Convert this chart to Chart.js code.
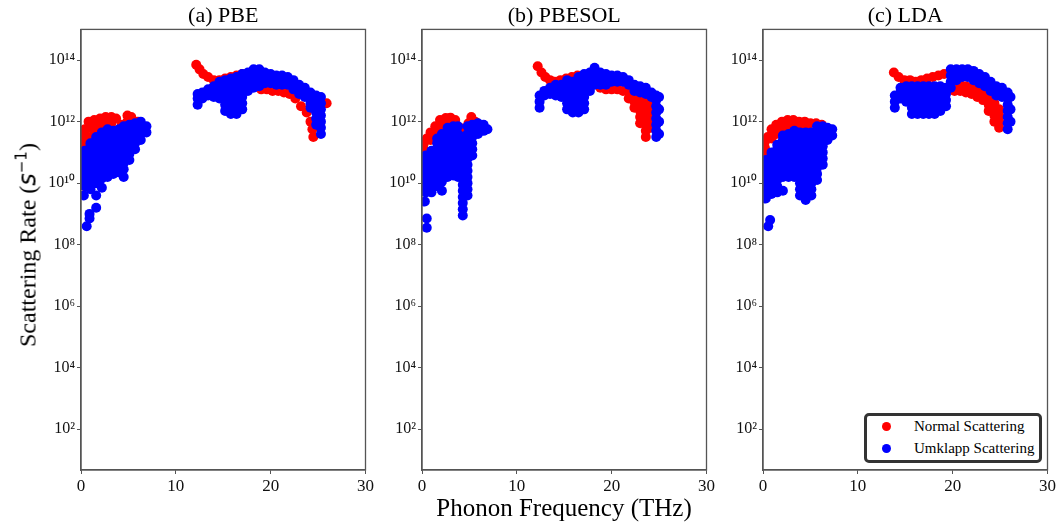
<!DOCTYPE html>
<html>
<head>
<meta charset="utf-8">
<script src="https://cdn.jsdelivr.net/npm/chart.js@4.4.1/dist/chart.umd.min.js"></script>
<style>
  body { margin: 0; width: 1058px; height: 525px; position: relative; background: #fff; overflow: hidden;
         font-family: "Liberation Serif", "Times New Roman", serif; }
  .panel { position: absolute; top: 0; }
  .ylabel { position: absolute; left: 27px; top: 245px; transform: translate(-50%, -50%) rotate(-90deg);
            white-space: nowrap; font-size: 24px; color: #000; font-family: "Liberation Serif", serif; }
  .ylabel .m { font-family: "DejaVu Sans", sans-serif; }
  .xlabel { position: absolute; left: 564px; top: 508px; transform: translate(-50%, -50%);
            white-space: nowrap; font-size: 25px; color: #000; font-family: "Liberation Serif", serif; }
  .legend { position: absolute; left: 864px; top: 413px; width: 178px; height: 50px; box-sizing: border-box;
            border: 3px solid #333; border-radius: 5px; background: #fff; font-size: 15px;
            font-family: "Liberation Serif", serif; }
  .legend .dot { position: absolute; width: 9px; height: 9px; border-radius: 50%; left: 15px; }
  .legend .txt { position: absolute; left: 47px; line-height: 15px; }
</style>
</head>
<body>
<div class="panel" style="left:36px"><canvas id="pbe" width="340" height="500"></canvas></div>
<div class="panel" style="left:377px"><canvas id="pbesol" width="340" height="500"></canvas></div>
<div class="panel" style="left:718px"><canvas id="lda" width="340" height="500"></canvas></div>
<div class="ylabel">Scattering Rate (<span class="m"><i>s</i><sup style="font-size:15px">−1</sup></span>)</div>
<div class="xlabel">Phonon Frequency (THz)</div>
<div class="legend">
  <div class="dot" style="top:6px;background:#ff0000"></div><div class="txt" style="top:3px">Normal Scattering</div>
  <div class="dot" style="top:28px;background:#0000ff"></div><div class="txt" style="top:25px">Umklapp Scattering</div>
</div>
<script>
// columns of [frequency THz, [log10 scattering rate, ...]]
const pbeNormal = [
  [0.2, [11.0, 11.2, 11.4, 11.6]], [0.4, [9.9, 11.75]], [0.8, [11.5, 11.8, 12.0]],
  [1.4, [11.6, 11.8, 12.05]], [2.0, [11.7, 11.9, 12.1]], [2.6, [11.95, 12.15]], [3.2, [11.95, 12.15]],
  [3.7, [12.1]], [4.3, [11.9]], [4.9, [12.0, 12.2]], [5.3, [12.15]], [6.0, [12.0]],
  [12.15, [13.85]], [12.5, [13.7]], [12.9, [13.55]], [13.4, [13.45]], [14.0, [13.35]], [14.6, [13.35]],
  [15.2, [13.4]], [15.8, [13.45]], [16.4, [13.5]], [17.0, [13.55]], [17.6, [13.55]],
  [18.4, [13.2]], [19.0, [13.05]], [19.6, [13.05]], [20.2, [13.0]], [20.8, [13.0]], [21.4, [12.95]],
  [22.0, [12.9]], [22.6, [12.75]], [23.2, [12.5]], [23.8, [12.3]], [24.2, [12.0]], [24.4, [11.75]],
  [24.5, [11.5]], [25.9, [12.6]]
];
const pbeUmklapp = [
  [0.3, [9.6]], [0.4, [9.9, 10.1, 10.3, 10.5, 10.7, 10.9, 11.05]], [0.6, [8.6]], [0.9, [8.85, 9.0]],
  [1.0, [9.8, 10.0, 10.2, 10.4, 10.6, 10.8, 11.0, 11.2, 11.3]],
  [1.6, [9.2, 9.6, 10.0, 10.2, 10.4, 10.6, 10.8, 11.0, 11.2, 11.4, 11.5]],
  [2.2, [9.85, 10.15, 10.35, 10.55, 10.75, 10.95, 11.15, 11.35, 11.55, 11.65]],
  [2.8, [10.2, 10.4, 10.6, 10.8, 11.0, 11.2, 11.4, 11.6, 11.75]],
  [3.4, [10.3, 10.5, 10.7, 10.9, 11.1, 11.3, 11.5, 11.7]],
  [4.0, [10.35, 10.55, 10.75, 10.95, 11.15, 11.35, 11.55, 11.75]],
  [4.5, [10.2, 10.45, 10.65, 10.85, 11.05, 11.25, 11.45, 11.65, 11.85]],
  [5.1, [10.75, 10.95, 11.15, 11.35, 11.55, 11.75, 11.9]],
  [5.7, [11.1, 11.3, 11.5, 11.7, 11.95]], [6.3, [11.4, 11.6, 11.8, 12.0]], [6.9, [11.65, 11.85]],
  [12.3, [12.55, 12.75, 12.9]], [12.8, [12.75, 12.95]], [13.4, [12.85, 13.05]], [14.0, [12.8, 13.0, 13.15]],
  [14.6, [12.75, 12.95, 13.15, 13.3]], [15.2, [12.35, 12.55, 12.75, 12.95, 13.15, 13.35]],
  [15.8, [12.25, 12.45, 12.65, 12.85, 13.05, 13.25, 13.4]],
  [16.4, [12.25, 12.45, 12.65, 12.85, 13.05, 13.25, 13.45]],
  [17.0, [12.4, 12.6, 12.8, 13.0, 13.2, 13.4, 13.55]], [17.6, [13.0, 13.2, 13.4, 13.6]],
  [18.2, [13.1, 13.3, 13.5, 13.7]], [18.8, [13.15, 13.35, 13.55, 13.7]], [19.4, [13.25, 13.45, 13.6]],
  [20.0, [13.25, 13.4, 13.55]], [20.6, [13.2, 13.35, 13.5]], [21.2, [13.2, 13.35, 13.5]],
  [21.8, [13.2, 13.35, 13.45]], [22.4, [13.05, 13.2, 13.35]], [23.0, [12.9, 13.05, 13.2]],
  [23.6, [12.8, 12.95, 13.1]], [24.2, [12.45, 12.6, 12.8, 12.95]],
  [24.8, [11.9, 12.1, 12.3, 12.5, 12.7, 12.85]], [25.3, [11.6, 11.8, 12.0, 12.2, 12.4, 12.6, 12.8]]
];
const pbesolNormal = [
  [0.2, [10.9, 11.1, 11.3]], [0.5, [9.9, 10.35, 11.45]], [0.9, [11.4, 11.65]], [1.4, [11.6, 11.85]],
  [1.9, [11.8, 12.05]], [2.5, [11.9, 12.12]], [3.0, [11.95, 12.13]], [3.5, [11.9, 12.05]],
  [4.0, [11.8]], [4.5, [11.75]], [4.9, [11.95]], [5.2, [12.15]], [5.6, [12.0]],
  [12.2, [13.8]], [12.6, [13.6]], [13.0, [13.45]], [13.5, [13.35]], [14.0, [13.3]], [14.6, [13.35]],
  [15.2, [13.4]], [15.8, [13.45]], [16.4, [13.5]], [17.0, [13.5]],
  [18.8, [13.1]], [19.4, [13.05]], [20.0, [13.05]], [20.6, [13.05]], [21.2, [13.0]],
  [21.8, [12.75, 12.95]], [22.4, [12.45, 12.65, 12.85]], [23.0, [11.95, 12.15, 12.35, 12.55, 12.75]],
  [23.6, [11.5, 11.7, 11.9, 12.1, 12.3, 12.5, 12.7]], [24.1, [11.8, 12.0, 12.2, 12.4, 12.6]]
];
const pbesolUmklapp = [
  [0.3, [9.4]], [0.5, [8.55, 8.85]], [0.4, [9.7, 9.9, 10.1, 10.3, 10.5, 10.7, 10.9]],
  [1.0, [9.7, 9.9, 10.1, 10.3, 10.5, 10.7, 10.9, 11.05]],
  [1.6, [9.9, 10.1, 10.3, 10.5, 10.7, 10.9, 11.1, 11.3, 11.45]],
  [2.1, [9.75, 10.05, 10.25, 10.45, 10.65, 10.85, 11.05, 11.25, 11.45, 11.6]],
  [2.7, [10.2, 10.4, 10.6, 10.8, 11.0, 11.2, 11.4, 11.6, 11.8]],
  [3.3, [10.25, 10.45, 10.65, 10.85, 11.05, 11.25, 11.45, 11.65, 11.85]],
  [3.8, [10.2, 10.4, 10.6, 10.8, 11.0, 11.2, 11.4, 11.6, 11.85]],
  [4.3, [8.95, 9.15, 9.35, 9.55, 9.75, 9.95, 10.15, 10.35, 10.55, 10.75, 10.95, 11.15, 11.35, 11.5]],
  [4.8, [9.6, 9.8, 10.0, 10.2, 10.4, 10.6, 10.8, 11.0, 11.2, 11.4, 11.6, 11.85]],
  [5.3, [10.9, 11.1, 11.3, 11.5, 11.7, 11.9]], [5.9, [11.6, 11.8, 11.95]], [6.5, [11.7, 11.9]], [6.9, [11.75]],
  [12.4, [12.45, 12.65, 12.85]], [12.9, [12.85, 13.0]], [13.5, [12.9, 13.1]], [14.1, [12.85, 13.05, 13.2]],
  [14.7, [12.8, 13.0, 13.2]], [15.3, [12.4, 12.6, 12.8, 13.0, 13.2, 13.35]],
  [15.9, [12.3, 12.5, 12.7, 12.9, 13.1, 13.3]], [16.5, [12.3, 12.5, 12.7, 12.9, 13.1, 13.3, 13.45]],
  [17.1, [12.4, 12.6, 12.8, 13.0, 13.2, 13.4, 13.55]], [17.7, [13.0, 13.2, 13.4, 13.6]],
  [18.2, [13.2, 13.4, 13.6, 13.75]], [18.8, [13.2, 13.4, 13.6]], [19.4, [13.2, 13.35, 13.55]],
  [20.0, [13.3, 13.5]], [20.6, [13.3, 13.5]], [21.2, [13.3, 13.45]], [21.8, [13.2, 13.35]],
  [22.4, [13.0, 13.2]], [23.0, [12.95, 13.15]], [23.6, [12.9, 13.1]], [24.2, [12.8, 12.95]],
  [24.7, [11.5, 11.7, 11.9, 12.1, 12.3, 12.5, 12.7, 12.85]], [25.0, [11.6, 12.0, 12.4, 12.8]]
];
const ldaNormal = [
  [0.2, [10.95, 11.15, 11.35]], [0.4, [9.85, 10.4]], [0.5, [11.5]], [0.9, [11.45, 11.75]],
  [1.4, [11.6, 11.9]], [2.0, [11.75, 12.0]], [2.6, [11.85, 12.05]], [3.2, [11.85, 12.05]],
  [3.8, [11.85, 12.0]], [4.4, [11.85, 12.0]], [5.0, [11.95]], [5.6, [11.95]], [6.2, [11.9]],
  [13.8, [13.6]], [14.3, [13.45]], [14.9, [13.35]], [15.5, [13.35]], [16.1, [13.3]], [16.7, [13.35]],
  [17.3, [13.4]], [17.9, [13.45]], [18.5, [13.5]], [19.1, [13.55]],
  [20.2, [13.0, 13.2]], [20.8, [13.0, 13.2]], [21.4, [12.95, 13.15]], [22.0, [12.9, 13.1]],
  [22.6, [12.8, 13.0]], [23.2, [12.7, 12.9]], [23.8, [12.35, 12.55, 12.75]],
  [24.4, [12.0, 12.2, 12.4, 12.6]], [24.9, [11.8, 12.0, 12.2, 12.4]]
];
const ldaUmklapp = [
  [0.3, [9.5, 9.75, 9.95, 10.15, 10.35, 10.55, 10.75]], [0.55, [8.6]], [0.75, [8.8]],
  [0.9, [9.65, 9.9, 10.1, 10.3, 10.5, 10.7, 10.9, 11.0]],
  [1.5, [9.7, 9.9, 10.1, 10.3, 10.5, 10.7, 10.9, 11.1, 11.25]],
  [2.1, [9.75, 10.2, 10.4, 10.6, 10.8, 11.0, 11.2, 11.4, 11.55]],
  [2.7, [10.2, 10.4, 10.6, 10.8, 11.0, 11.2, 11.4, 11.6]],
  [3.3, [10.2, 10.4, 10.6, 10.8, 11.0, 11.2, 11.4, 11.6, 11.7]],
  [3.9, [9.6, 9.8, 10.0, 10.2, 10.4, 10.6, 10.8, 11.0, 11.2, 11.4, 11.65]],
  [4.5, [9.45, 9.65, 9.85, 10.05, 10.25, 10.45, 10.65, 10.85, 11.05, 11.25, 11.45, 11.65]],
  [5.1, [9.6, 9.8, 10.0, 10.2, 10.4, 10.6, 10.8, 11.0, 11.2, 11.4, 11.65]],
  [5.7, [10.1, 10.3, 10.5, 10.7, 10.9, 11.1, 11.3, 11.5, 11.7, 11.85]],
  [6.3, [10.6, 10.8, 11.0, 11.2, 11.4, 11.6, 11.85]], [6.8, [11.4, 11.6, 11.8]], [7.3, [11.55, 11.75]],
  [13.9, [12.45, 12.65, 12.85]], [14.5, [12.75, 12.95, 13.1]], [15.1, [12.65, 12.85, 13.05, 13.15]],
  [15.7, [12.25, 12.45, 12.65, 12.85, 13.05, 13.15]], [16.3, [12.25, 12.45, 12.65, 12.85, 13.05, 13.15]],
  [16.9, [12.25, 12.45, 12.65, 12.85, 13.05, 13.15]], [17.5, [12.25, 12.45, 12.65, 12.85, 13.05, 13.15]],
  [18.1, [12.25, 12.45, 12.65, 12.85, 13.05, 13.15]], [18.7, [12.35, 12.55, 12.75, 12.95, 13.15]],
  [19.3, [12.5, 12.7, 12.9, 13.1]], [19.8, [13.1, 13.3, 13.5, 13.7]], [20.4, [13.35, 13.55, 13.7]],
  [21.0, [13.45, 13.6, 13.7]], [21.6, [13.45, 13.6, 13.7]], [22.2, [13.35, 13.5, 13.65]],
  [22.8, [13.25, 13.4, 13.55]], [23.4, [13.15, 13.3, 13.45]], [24.0, [13.0, 13.15, 13.3]],
  [24.6, [12.85, 13.0, 13.15]], [25.2, [12.8, 12.95, 13.1]],
  [25.8, [11.75, 11.95, 12.15, 12.35, 12.55, 12.75, 12.95]], [26.1, [12.0, 12.4, 12.8]]
];

const yTickValues = [1e2, 1e4, 1e6, 1e8, 1e10, 1e12, 1e14];
const yTickLabels = ['10²', '10⁴', '10⁶', '10⁸', '10¹⁰', '10¹²', '10¹⁴'];
const xTickStep = 10;

const panels = [
  { id: 'pbe', title: '(a) PBE', normal: pbeNormal, umklapp: pbeUmklapp },
  { id: 'pbesol', title: '(b) PBESOL', normal: pbesolNormal, umklapp: pbesolUmklapp },
  { id: 'lda', title: '(c) LDA', normal: ldaNormal, umklapp: ldaUmklapp }
];

function toPoints(cols) {
  return cols.flatMap(([f, logs]) => logs.map(e => ({ x: f, y: Math.pow(10, e) })));
}

// matplotlib-like box around the axes
const frame = {
  id: 'frame',
  afterDraw(chart) {
    const a = chart.chartArea, ctx = chart.ctx;
    ctx.save();
    ctx.strokeStyle = '#555';
    ctx.lineWidth = 1.3;
    ctx.strokeRect(a.left, a.top, a.right - a.left, a.bottom - a.top);
    ctx.restore();
  }
};

Chart.defaults.font.family = '"Liberation Serif", "Times New Roman", serif';
Chart.defaults.color = '#111';

panels.forEach(p => {
  new Chart(document.getElementById(p.id), {
    type: 'scatter',
    data: {
      datasets: [
        { label: 'Normal Scattering', data: toPoints(p.normal), backgroundColor: '#ff0000',
          borderWidth: 0, pointRadius: 5, order: 2, clip: 0 },
        { label: 'Umklapp Scattering', data: toPoints(p.umklapp), backgroundColor: '#0000ff',
          borderWidth: 0, pointRadius: 5, order: 1, clip: 0 }
      ]
    },
    options: {
      responsive: false,
      animation: false,
      events: [],
      layout: { padding: { left: 0, right: 10, top: 0, bottom: 0 } },
      plugins: {
        legend: { display: false },
        tooltip: { enabled: false },
        title: { display: true, fullSize: false, text: p.title, color: '#000',
                 font: { size: 22, weight: 'normal' }, padding: { top: 3, bottom: 0 } }
      },
      scales: {
        x: {
          type: 'linear', min: 0, max: 30,
          ticks: { stepSize: xTickStep, font: { size: 17 }, padding: 2, maxRotation: 0 },
          grid: { display: true, drawOnChartArea: false, tickLength: 4, color: '#555' },
          border: { color: '#555', width: 1.3 },
          afterFit: s => { s.height = 30; }
        },
        y: {
          type: 'logarithmic', min: Math.pow(10, 0.67), max: 1e15,
          afterBuildTicks: s => { s.ticks = yTickValues.map(v => ({ value: v })); },
          ticks: { callback: (v, i) => yTickLabels[i], font: { size: 16 }, padding: 2, autoSkip: false },
          grid: { display: true, drawOnChartArea: false, tickLength: 4, color: '#555' },
          border: { color: '#555', width: 1.3 },
          afterFit: s => { s.width = 45; }
        }
      }
    },
    plugins: [frame]
  });
});
</script>
</body>
</html>
